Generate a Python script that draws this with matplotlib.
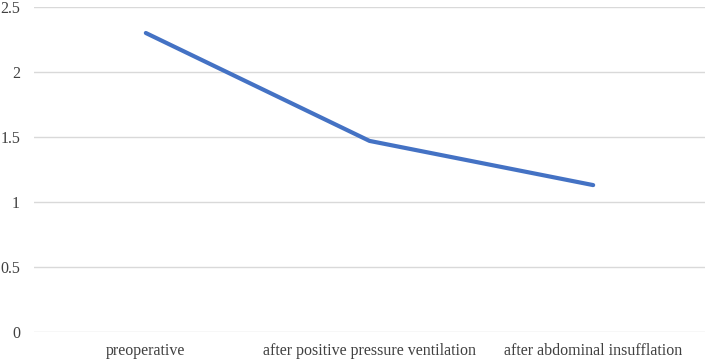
import matplotlib
matplotlib.use("Agg")
from matplotlib import pyplot as plt

categories = ["preoperative", "after positive pressure ventilation", "after abdominal insufflation"]
values = [2.3, 1.47, 1.13]
yticks = [0, 0.5, 1, 1.5, 2, 2.5]
ytick_labels = ["0", "0.5", "1", "1.5", "2", "2.5"]

plt.rcParams['font.family'] = ['Liberation Serif', 'DejaVu Serif']

fig = plt.figure(figsize=(7.08, 3.61), dpi=100)
ax = fig.add_axes([34/708, 1 - 332/361, (705 - 34)/708, (332 - 7)/361])

x = list(range(len(categories)))
ax.plot(x, values, color='#4472C4', linewidth=3, solid_capstyle='round')

ax.set_xlim(-0.5, len(categories) - 0.5)
ax.set_ylim(0, 2.5)
ax.set_yticks(yticks)
ax.set_yticklabels(ytick_labels, fontsize=11.5, color='#404040')
ax.set_xticks(x)
ax.set_xticklabels(categories, fontsize=11.5, color='#404040')
ax.tick_params(axis='both', length=0)
ax.tick_params(axis='y', pad=10)
ax.tick_params(axis='x', pad=8)

ax.grid(axis='y', color='#d9d9d9', linewidth=1)
ax.set_axisbelow(True)
for s in ['top', 'right', 'left', 'bottom']:
    ax.spines[s].set_visible(False)

plt.savefig("out.png", dpi=100)
